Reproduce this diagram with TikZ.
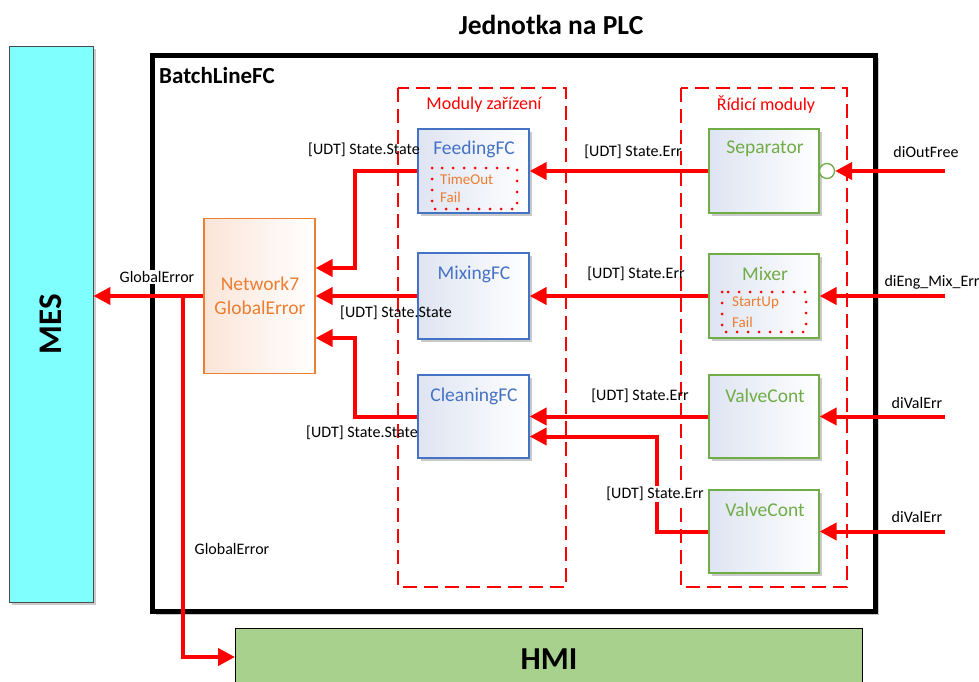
\documentclass[tikz,border=0pt]{standalone}
\usepackage{fontspec}
\setmainfont{Carlito}
\usetikzlibrary{arrows.meta,shadows,calc}
\definecolor{rd}{RGB}{255,0,0}
\definecolor{bl}{RGB}{68,114,196}
\definecolor{gr}{RGB}{112,173,71}
\definecolor{og}{RGB}{237,125,49}
\definecolor{mescol}{RGB}{128,255,255}
\definecolor{hmicol}{RGB}{169,209,142}
\definecolor{tint}{RGB}{222,228,242}
\definecolor{peach}{RGB}{251,229,216}
\tikzset{
  shd/.style={drop shadow={opacity=0.35,shadow xshift=3pt,shadow yshift=-3pt,fill=black!60}},
  fcbox/.style={draw=bl, line width=1.3pt, minimum width=111pt, minimum height=84pt, inner sep=0pt,
    left color=tint, right color=white, shd},
  cmbox/.style={draw=gr, line width=1.3pt, minimum width=110pt, minimum height=84pt, inner sep=0pt,
    left color=tint, right color=white, shd},
  ttl/.style={font=\fontsize{19.5}{22}\selectfont, inner sep=0pt},
  lbl/.style={font=\fontsize{16}{19}\selectfont, inner sep=0pt, text=black},
  wlbl/.style={lbl, fill=white, inner sep=1pt},
  wire/.style={draw=rd, line width=4pt},
  arr/.style={wire, -{Triangle[length=17pt,width=17pt]}},
  modrect/.style={draw=rd, line width=2pt, dash pattern=on 14pt off 7pt},
  dotrect/.style={draw=rd, line width=3pt, dash pattern=on 0pt off 11pt, line cap=round},
  small/.style={font=\fontsize{15}{18}\selectfont, text=og, inner sep=0pt, anchor=west}
}
\begin{document}
\begin{tikzpicture}[x=1pt,y=-1pt]
\useasboundingbox (0,0) rectangle (979,682);
% title
\node[font=\fontsize{27.5}{30}\selectfont\bfseries, inner sep=0pt] (title) at (551,25) {Jednotka na PLC};
% MES
\node[draw=black!70, line width=0.8pt, fill=mescol, minimum width=84pt, minimum height=556pt, inner sep=0pt, shd] (mes) at (51,324) {};
\node[font=\fontsize{33}{36}\selectfont\bfseries, rotate=90, inner sep=0pt] (mest) at (51,324) {MES};
% HMI
\node[draw=black, line width=0.8pt, fill=hmicol, minimum width=627pt, minimum height=70pt, inner sep=0pt, anchor=north west] (hmi) at (235,628) {};
\node[font=\fontsize{32}{36}\selectfont\bfseries, inner sep=0pt] (hmit) at (549,659) {HMI};
% BatchLineFC
\node[draw=black, line width=5pt, fill=white, minimum width=723pt, minimum height=556pt, inner sep=0pt, anchor=north west, shd] (batch) at (150,53) {};
\node[font=\fontsize{23}{26}\selectfont\bfseries, inner sep=0pt, anchor=west] (batcht) at (159,76) {BatchLineFC};
% module groups
\draw[modrect] (398,88) rectangle (566,587);
\node[font=\fontsize{18}{21}\selectfont, text=rd, inner sep=0pt] (modz) at (484,105) {Moduly zařízení};
\draw[modrect] (681,88) rectangle (847,587);
\node[font=\fontsize{18}{21}\selectfont, text=rd, inner sep=0pt] (modr) at (766,105) {Řídicí moduly};
% FC boxes
\node[fcbox] (feed) at (473.5,171) {};
\node[ttl, text=bl] (feedt) at (474,149) {FeedingFC};
\draw[dotrect] (432,168) rectangle (517,209);
\node[small] (to) at (440,179) {TimeOut};
\node[small] (f1) at (440,197) {Fail};
\node[fcbox, minimum height=86pt] (mix) at (473.5,296) {};
\node[ttl, text=bl] (mixt) at (474,274) {MixingFC};
\node[fcbox, minimum height=83pt] (clean) at (473.5,416.5) {};
\node[ttl, text=bl] (cleant) at (474,396) {CleaningFC};
% Network7
\node[draw=og, line width=1.2pt, minimum width=111pt, minimum height=155pt, inner sep=0pt,
  left color=peach, right color=white] (net) at (259.5,296) {};
\node[font=\fontsize{19.5}{24}\selectfont, text=og, align=center, inner sep=0pt] (nett) at (260,296) {Network7\\GlobalError};
% control modules
\node[cmbox] (sep) at (764,171) {};
\node[ttl, text=gr] (sept) at (765,149) {Separator};
\node[draw=gr, line width=1.3pt, fill=white, circle, minimum size=15pt, inner sep=0pt] (sepc) at (827,171) {};
\node[cmbox] (mixer) at (764,296) {};
\node[ttl, text=gr] (mixert) at (765,274) {Mixer};
\draw[dotrect] (722,292) rectangle (806,332);
\node[small] (su) at (732,303) {StartUp};
\node[small] (f2) at (732,322) {Fail};
\node[cmbox, minimum height=83pt] (v1) at (764,416.5) {};
\node[ttl, text=gr] (v1t) at (765,396) {ValveCont};
\node[cmbox, minimum height=83pt] (v2) at (764,531.5) {};
\node[ttl, text=gr] (v2t) at (765,510) {ValveCont};
% inputs
\coordinate (i1) at (945,171);
\coordinate (i2) at (945,296);
\coordinate (i3) at (945,416.5);
\coordinate (i4) at (945,531.5);
\draw[arr] (i1) -- (sepc.east);
\draw[arr] (i2) -- (mixer.east);
\draw[arr] (i3) -- (v1.east);
\draw[arr] (i4) -- (v2.east);
\node[lbl] (l1) at (926,152) {diOutFree};
\node[lbl] (l2) at (932,282) {diEng\_Mix\_Err};
\node[lbl] (l3) at (917,403) {diValErr};
\node[lbl] (l4) at (917,517) {diValErr};
% control -> FC
\draw[arr] (sep.west) -- (feed.east);
\draw[arr] (mixer.west) -- (mix.east);
\draw[arr] (v1.west) -- (clean.east);
\draw[arr] (v2.west) -- ++(-51,0) |- ($(clean.east)+(0,20)$);
\node[lbl] (l5) at (633,152) {[UDT] State.Err};
\node[lbl] (l6) at (636,274) {[UDT] State.Err};
\node[lbl] (l7) at (640,396) {[UDT] State.Err};
\node[wlbl] (l8) at (655,494) {[UDT] State.Err};
% FC -> Network7
\draw[arr] (feed.west) -- ++(-62,0) |- ($(net.east)+(0,-28)$);
\draw[arr] (mix.west) -- (net.east);
\draw[arr] (clean.west) -- ++(-62,0) |- ($(net.east)+(0,42)$);
\node[lbl] (l9) at (364,150) {[UDT] State.State};
\node[lbl] (l10) at (396,313) {[UDT] State.State};
\node[lbl] (l11) at (362,433) {[UDT] State.State};
% Network7 -> MES, HMI
\draw[arr] (net.west) -- (mes.east |- net.west);
\coordinate (br) at (183,296);
\draw[arr] (br) |- (hmi.west |- 0,657);
\node[wlbl] (l12) at (157,277) {GlobalError};
\node[lbl] (l13) at (232,549) {GlobalError};
\end{tikzpicture}
\end{document}
